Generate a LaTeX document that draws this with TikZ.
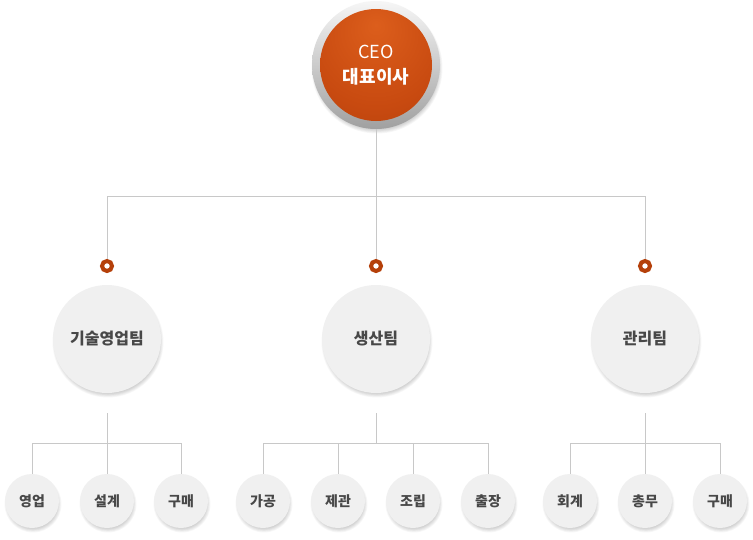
\documentclass[tikz,border=0pt]{standalone}
\usepackage{fontspec}
\setmainfont{Noto Sans CJK KR}
\definecolor{linec}{HTML}{C8C8C8}
\definecolor{dotc}{HTML}{B5400A}
\definecolor{orL}{HTML}{DC5E1C}
\definecolor{orM}{HTML}{C84A10}
\definecolor{orD}{HTML}{A5380A}
\definecolor{ringT}{HTML}{F6F6F6}
\definecolor{ringB}{HTML}{A0A0A0}
\definecolor{teamfill}{HTML}{F0F0F0}
\definecolor{teamtext}{HTML}{484848}
\pgfdeclareradialshading{orangeball}{\pgfpoint{0bp}{18bp}}{color(0bp)=(orL);color(30bp)=(orM);color(62bp)=(orD);color(80bp)=(orD)}
\newcommand{\softshad}[3]{%
  \foreach \k in {0,...,6} {\fill[black, opacity=0.03] (#1+1,#2+3) circle[radius={(#3+1.5-0.8*\k)*1pt}];}}
\tikzset{
  conn/.style={draw=linec, line width=0.9pt},
  ceoring/.style={circle, minimum size=128pt, inner sep=0pt, top color=ringT, bottom color=ringB},
  ceocore/.style={circle, minimum size=112pt, inner sep=0pt, shading=orangeball, text=white, align=center, font=\fontsize{18}{25}\selectfont},
  dotn/.style={circle, minimum size=10pt, inner sep=0pt, draw=dotc, line width=4pt, fill=white},
  team/.style={circle, minimum size=108pt, inner sep=0pt, fill=teamfill, text=teamtext, font=\bfseries\fontsize{16}{18}\selectfont},
  unit/.style={circle, minimum size=54pt, inner sep=0pt, fill=teamfill, text=teamtext, font=\bfseries\fontsize{14}{16}\selectfont},
}
\begin{document}
\begin{tikzpicture}[x=1pt,y=-1pt]
\fill[white] (0,0) rectangle (753,539);
\useasboundingbox (0,0) rectangle (753,539);
% coordinates
\coordinate (c0) at (376,196);
\coordinate (cL) at (107,196);
\coordinate (cR) at (645,196);
\coordinate (t1a) at (107,413); \coordinate (t1b) at (107,443);
\coordinate (h1l) at (32,443);  \coordinate (h1r) at (181,443);
\coordinate (t2a) at (376,413); \coordinate (t2b) at (376,443);
\coordinate (h2l) at (263,443); \coordinate (h2m) at (338,443);
\coordinate (h2n) at (413,443); \coordinate (h2r) at (488,443);
\coordinate (t3a) at (645,413); \coordinate (t3b) at (645,443);
\coordinate (h3l) at (570,443); \coordinate (h3r) at (720,443);
% shadows
\softshad{376}{65}{64}
\foreach \x in {107,376,645} {\softshad{\x}{339}{54}}
\foreach \x in {32,107,181,263,338,413,488,570,645,720} {\softshad{\x}{501}{27}}
% nodes
\node[ceoring] (ring) at (376,65) {};
\node[ceocore] (ceo) at (376,65) {CEO\\{\bfseries 대표이사}};
\node[dotn] (d1) at (107,266) {};
\node[dotn] (d2) at (376,266) {};
\node[dotn] (d3) at (645,266) {};
\node[team] (t1) at (107,339) {기술영업팀};
\node[team] (t2) at (376,339) {생산팀};
\node[team] (t3) at (645,339) {관리팀};
\node[unit] (s11) at (32,501) {영업};
\node[unit] (s12) at (107,501) {설계};
\node[unit] (s13) at (181,501) {구매};
\node[unit] (s21) at (263,501) {가공};
\node[unit] (s22) at (338,501) {제관};
\node[unit] (s23) at (413,501) {조립};
\node[unit] (s24) at (488,501) {출장};
\node[unit] (s31) at (570,501) {회계};
\node[unit] (s32) at (645,501) {총무};
\node[unit] (s33) at (720,501) {구매};
% connectors
\draw[conn] (ring.south) -- (c0);
\draw[conn] (cL) -- (cR);
\draw[conn] (cL) -- (d1.north);
\draw[conn] (c0) -- (d2.north);
\draw[conn] (cR) -- (d3.north);
\draw[conn] (t1a) -- (t1b);
\draw[conn] (h1l) -- (h1r);
\draw[conn] (h1l) -- (s11.north);
\draw[conn] (t1b) -- (s12.north);
\draw[conn] (h1r) -- (s13.north);
\draw[conn] (t2a) -- (t2b);
\draw[conn] (h2l) -- (h2r);
\draw[conn] (h2l) -- (s21.north);
\draw[conn] (h2m) -- (s22.north);
\draw[conn] (h2n) -- (s23.north);
\draw[conn] (h2r) -- (s24.north);
\draw[conn] (t3a) -- (t3b);
\draw[conn] (h3l) -- (h3r);
\draw[conn] (h3l) -- (s31.north);
\draw[conn] (t3b) -- (s32.north);
\draw[conn] (h3r) -- (s33.north);
\end{tikzpicture}
\end{document}
